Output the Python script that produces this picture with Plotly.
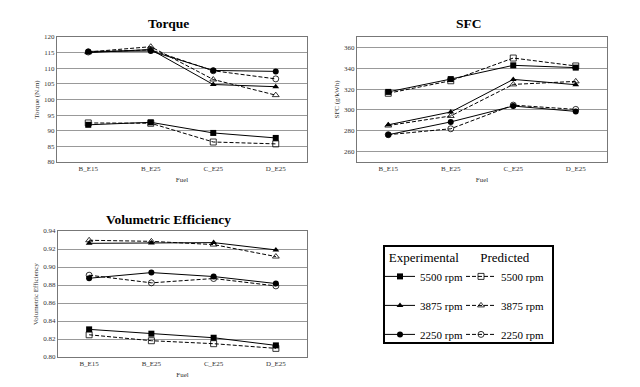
import plotly.graph_objects as go

fuels = ["B_E15", "B_E25", "C_E25", "D_E25"]

torque_exp_5500 = [91.9, 92.7, 89.3, 87.7]
torque_pre_5500 = [92.5, 92.4, 86.4, 85.8]
torque_exp_3875 = [115.0, 116.0, 104.8, 104.1]
torque_pre_3875 = [115.2, 116.9, 106.4, 101.4]
torque_exp_2250 = [115.4, 115.5, 109.3, 109.0]
torque_pre_2250 = [115.2, 115.9, 109.2, 106.6]

sfc_exp_5500 = [317.3, 329.6, 342.8, 340.6]
sfc_pre_5500 = [316.0, 328.0, 349.8, 342.2]
sfc_exp_3875 = [285.7, 298.0, 329.3, 324.2]
sfc_pre_3875 = [285.0, 294.2, 324.5, 327.4]
sfc_exp_2250 = [276.2, 288.5, 303.7, 298.6]
sfc_pre_2250 = [276.2, 281.9, 304.6, 300.5]

ve_exp_5500 = [0.8307, 0.8259, 0.8214, 0.8129]
ve_pre_5500 = [0.8247, 0.8181, 0.8148, 0.8096]
ve_exp_3875 = [0.9263, 0.9267, 0.9271, 0.9190]
ve_pre_3875 = [0.9297, 0.9285, 0.9249, 0.9116]
ve_exp_2250 = [0.8875, 0.8938, 0.8894, 0.8816]
ve_pre_2250 = [0.8909, 0.8824, 0.8872, 0.8790]

speeds = ["5500 rpm", "3875 rpm", "2250 rpm"]
exp_symbols = ["square", "triangle-up", "circle"]
pre_symbols = ["square-open", "triangle-up-open", "circle-open"]

FONT = "'Liberation Serif', 'Times New Roman', serif"

fig = go.Figure()

panels = [
    ("x", "y", [torque_exp_5500, torque_exp_3875, torque_exp_2250],
     [torque_pre_5500, torque_pre_3875, torque_pre_2250]),
    ("x2", "y2", [sfc_exp_5500, sfc_exp_3875, sfc_exp_2250],
     [sfc_pre_5500, sfc_pre_3875, sfc_pre_2250]),
    ("x3", "y3", [ve_exp_5500, ve_exp_3875, ve_exp_2250],
     [ve_pre_5500, ve_pre_3875, ve_pre_2250]),
]

for pi, (xa, ya, exps, pres) in enumerate(panels):
    for i in range(3):
        fig.add_trace(go.Scatter(
            x=fuels, y=exps[i], xaxis=xa, yaxis=ya, mode="lines+markers",
            line=dict(color="black", width=1),
            marker=dict(symbol=exp_symbols[i], size=6, color="black"),
            name=speeds[i], showlegend=(pi == 0), legend="legend",
            legendgroup="e" + str(i)))
        fig.add_trace(go.Scatter(
            x=fuels, y=pres[i], xaxis=xa, yaxis=ya, mode="lines+markers",
            line=dict(color="black", width=1, dash="4px,2px"),
            marker=dict(symbol=pre_symbols[i], size=6, color="black",
                        line=dict(width=0.8)),
            name=speeds[i], showlegend=(pi == 0), legend="legend2",
            legendgroup="p" + str(i)))

axfont = dict(family=FONT, size=7, color="#333")
tfont = dict(family=FONT, size=7, color="#333")
common_x = dict(type="category", range=[-0.5, 3.5], showline=True, mirror=True,
                linecolor="#777", linewidth=1, showgrid=False, ticks="",
                tickfont=axfont, automargin=False,
                title=dict(text="Fuel", font=tfont, standoff=4))
common_y = dict(showline=True, mirror=True, linecolor="#777", linewidth=1,
                showgrid=True, gridcolor="#999", gridwidth=1, ticks="",
                tickfont=axfont, zeroline=False, automargin=False)

ttl = dict(xref="paper", yref="paper", showarrow=False, xanchor="center",
           yanchor="middle", font=dict(family=FONT, size=13.5))

fig.update_layout(
    width=640, height=387,
    margin=dict(l=0, r=0, t=0, b=0, autoexpand=False),
    paper_bgcolor="white", plot_bgcolor="white",
    font=dict(family=FONT, color="black"),
    xaxis=dict(common_x, domain=[57/640, 307/640], anchor="y"),
    yaxis=dict(common_y, domain=[1-162/387, 1-37/387], anchor="x",
               range=[80, 120], dtick=5,
               title=dict(text="Torque (N.m)", font=tfont, standoff=3)),
    xaxis2=dict(common_x, domain=[357/640, 607/640], anchor="y2"),
    yaxis2=dict(common_y, domain=[1-162/387, 1-37/387], anchor="x2",
                range=[250, 370], dtick=20,
                title=dict(text="SFC (g/kWh)", font=tfont, standoff=3)),
    xaxis3=dict(common_x, domain=[58/640, 307/640], anchor="y3"),
    yaxis3=dict(common_y, domain=[1-357/387, 1-231/387], anchor="x3",
                range=[0.80, 0.94], dtick=0.02, tickformat=".2f",
                title=dict(text="Volumetric Efficiency", font=tfont, standoff=3)),
    legend=dict(x=380/640, y=1-245/387, xanchor="left", yanchor="top",
                bgcolor="rgba(0,0,0,0)", borderwidth=0,
                title=dict(text="Experimental", side="top center",
                           font=dict(family=FONT, size=13)),
                font=dict(family=FONT, size=11), tracegroupgap=10,
                itemwidth=30, traceorder="grouped"),
    legend2=dict(x=461/640, y=1-245/387, xanchor="left", yanchor="top",
                 bgcolor="rgba(0,0,0,0)", borderwidth=0,
                 title=dict(text="Predicted", side="top center",
                            font=dict(family=FONT, size=13)),
                 font=dict(family=FONT, size=11), tracegroupgap=10,
                 itemwidth=30, traceorder="grouped"),
    shapes=[dict(type="rect", xref="paper", yref="paper",
                 x0=384/640, x1=553/640, y0=1-343/387, y1=1-246/387,
                 line=dict(color="black", width=2))],
    annotations=[
        dict(ttl, text="<b>Torque</b>", x=168/640, y=1-23/387),
        dict(ttl, text="<b>SFC</b>", x=469/640, y=1-23/387),
        dict(ttl, text="<b>Volumetric Efficiency</b>", x=168/640, y=1-219/387),
    ],
)

fig.write_html("out.html", post_script="document.body.style.margin='0';",
               config={"displayModeBar": False})
